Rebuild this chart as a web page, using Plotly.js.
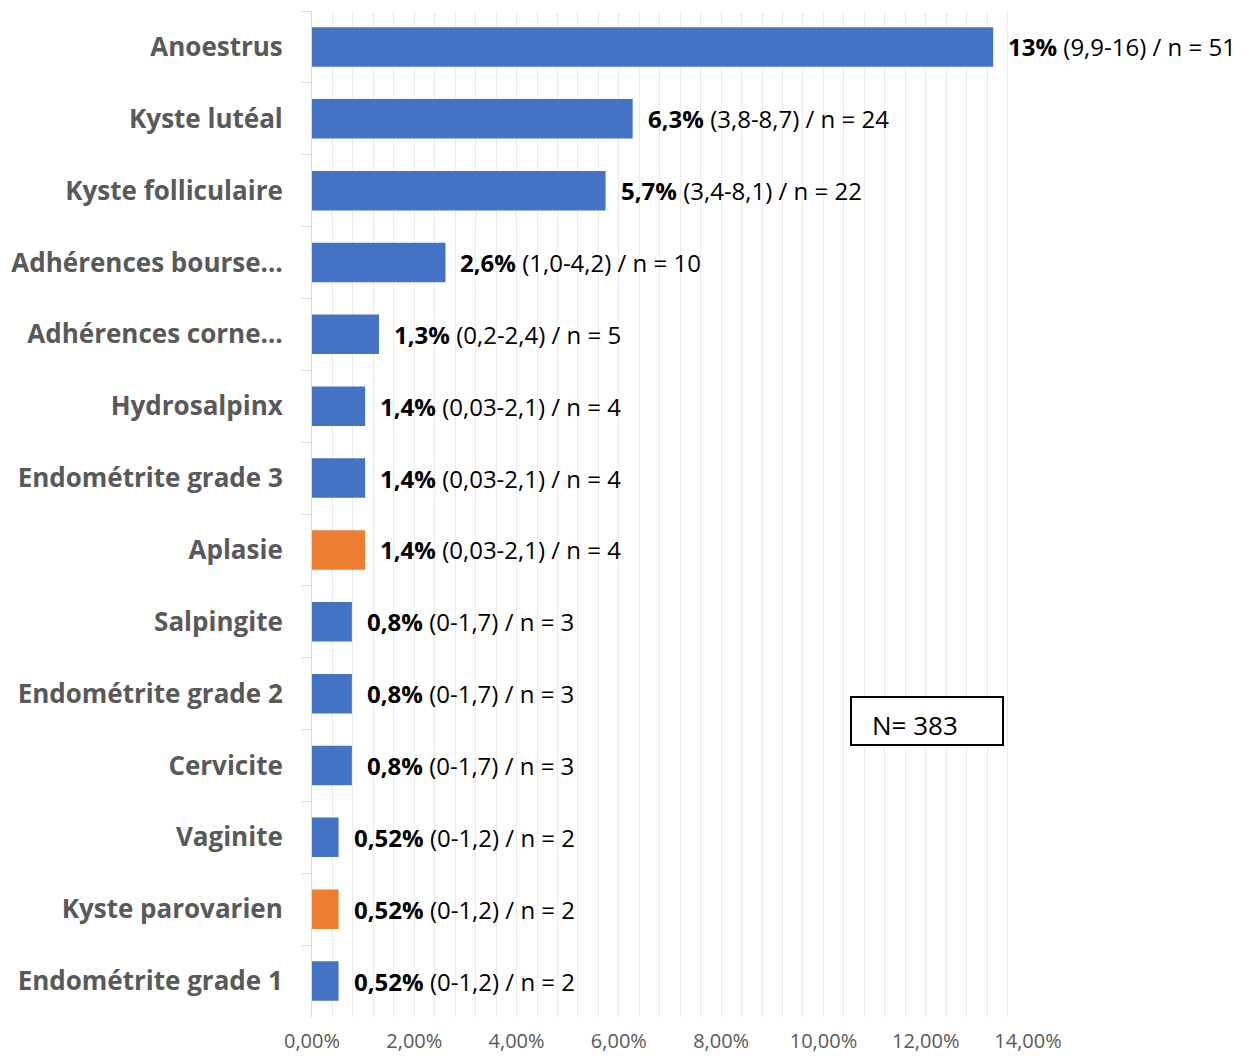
<!DOCTYPE html>
<html>
<head>
<meta charset="utf-8">
<script src="https://cdn.plot.ly/plotly-3.0.1.min.js"></script>
<style>html,body{margin:0;padding:0;background:#fff;}#chart{width:1242px;height:1059px;}</style>
</head>
<body>
<div id="chart"></div>
<script>
const categories = ["Anoestrus","Kyste lutéal","Kyste folliculaire","Adhérences bourse…","Adhérences corne…","Hydrosalpinx","Endométrite grade 3","Aplasie","Salpingite","Endométrite grade 2","Cervicite","Vaginite","Kyste parovarien","Endométrite grade 1"];
const values = [0.1332,0.0627,0.0574,0.0261,0.0131,0.0104,0.0104,0.0104,0.0078,0.0078,0.0078,0.0052,0.0052,0.0052];
const pctLabels = ["13%","6,3%","5,7%","2,6%","1,3%","1,4%","1,4%","1,4%","0,8%","0,8%","0,8%","0,52%","0,52%","0,52%"];
const ciLabels = ["(9,9-16)","(3,8-8,7)","(3,4-8,1)","(1,0-4,2)","(0,2-2,4)","(0,03-2,1)","(0,03-2,1)","(0,03-2,1)","(0-1,7)","(0-1,7)","(0-1,7)","(0-1,2)","(0-1,2)","(0-1,2)"];
const counts = [51,24,22,10,5,4,4,4,3,3,3,2,2,2];
const groups = ["b","b","b","b","b","b","b","o","b","b","b","b","o","b"];
const tickVals = [0,0.02,0.04,0.06,0.08,0.10,0.12,0.14];
const tickText = ["0,00%","2,00%","4,00%","6,00%","8,00%","10,00%","12,00%","14,00%"];
const totalN = 383;

const palette = {b:"#4472C4", o:"#ED7D31"};
const FONT = "'Open Sans', Lato, sans-serif";

const trace = {
  type: "bar",
  orientation: "h",
  x: values,
  y: categories,
  marker: {color: groups.map(g => palette[g]), line: {width: 0}},
  hoverinfo: "skip"
};

const annotations = categories.map((c, i) => ({
  x: values[i], y: c, xref: "x", yref: "y",
  xanchor: "left", yanchor: "middle", xshift: 13, yshift: 0,
  text: "<b>" + pctLabels[i] + "</b> " + ciLabels[i] + " / n = " + counts[i],
  showarrow: false,
  font: {family: FONT, size: 24, color: "#000"}
}));
annotations.push({
  xref: "paper", yref: "paper", x: 0.780, y: 0.290,
  xanchor: "left", yanchor: "middle",
  text: "N= " + totalN, showarrow: false, align: "left",
  font: {family: FONT, size: 26, color: "#000"}
});

const layout = {
  width: 1242, height: 1059,
  margin: {l: 312, r: 214, t: 11, b: 42},
  paper_bgcolor: "#fff", plot_bgcolor: "#fff",
  bargap: 0.45,
  showlegend: false,
  font: {family: FONT},
  xaxis: {
    range: [0, 0.14],
    tickvals: tickVals, ticktext: tickText,
    tickfont: {family: FONT, size: 20, color: "#595959"},
    showgrid: true, gridcolor: "#ebebeb", gridwidth: 1,
    minor: {dtick: 0.004, showgrid: true, gridcolor: "#ebebeb", gridwidth: 1},
    zeroline: false, showline: false, ticks: "",
    ticklabelstandoff: 10,
    fixedrange: true
  },
  yaxis: {
    type: "category",
    autorange: "reversed",
    tickfont: {family: FONT, size: 26, color: "#595959", weight: "bold"},
    showline: true, linecolor: "#d9d9d9", linewidth: 1,
    ticks: "outside", tickson: "boundaries", ticklen: 10, tickcolor: "#d9d9d9",
    ticklabelstandoff: 23,
    showgrid: false, zeroline: false,
    fixedrange: true
  },
  shapes: [{
    type: "rect", xref: "paper", yref: "paper",
    x0: 0.7528, x1: 0.9651, y0: 0.2704, y1: 0.3181,
    line: {color: "#000", width: 2}, fillcolor: "#fff", layer: "above"
  }],
  annotations: annotations
};

Plotly.newPlot("chart", [trace], layout, {displayModeBar: false, staticPlot: true});
</script>
</body>
</html>
